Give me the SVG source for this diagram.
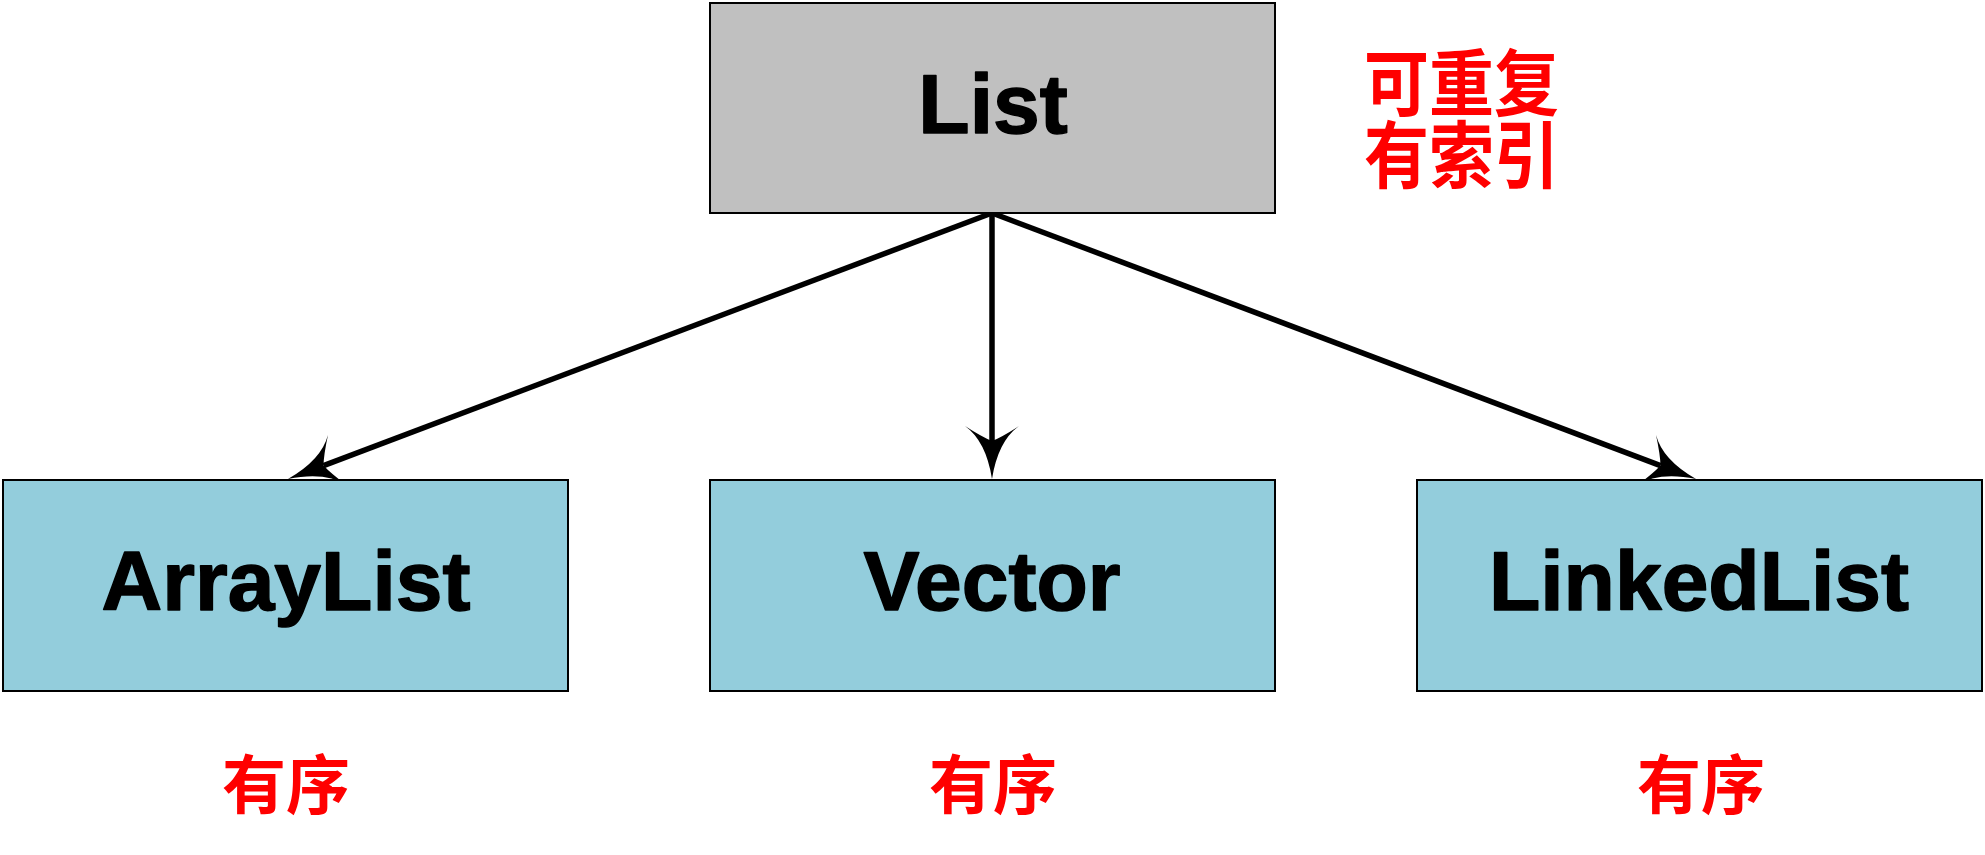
<svg xmlns="http://www.w3.org/2000/svg" width="1985" height="855" viewBox="0 0 1985 855">
<style>
.box{stroke:#000;stroke-width:2}
.gray{fill:#C0C0C0}
.blue{fill:#93CDDC}
.name{font-family:"Liberation Sans",Arial,sans-serif;font-weight:bold;font-size:84px;fill:#000;stroke:#000;stroke-width:1.5;stroke-linejoin:round;text-anchor:middle}
.note{font-family:"Noto Sans CJK SC","Noto Sans",sans-serif;font-weight:bold;font-size:64px;fill:#FF0000}
.mid{text-anchor:middle}
.edge{stroke:#000;stroke-width:5.5;fill:none;marker-end:url(#head)}
</style>
<defs>
<marker id="head" viewBox="-56 -30 60 60" markerWidth="60" markerHeight="60" refX="-38" refY="0" orient="auto" markerUnits="userSpaceOnUse">
<path d="M0,0 Q-38,-6 -53,-27 Q-42,-10 -38,0 Q-42,10 -53,27 Q-38,6 0,0 Z" fill="#000"/>
</marker>
</defs>
<rect width="1985" height="855" fill="#fff"/>
<g id="connectors">
<line class="edge" x1="992" y1="213" x2="323.5" y2="465.6"/>
<line class="edge" x1="992" y1="213" x2="992" y2="441"/>
<line class="edge" x1="992" y1="213" x2="1660.5" y2="465.6"/>
</g>
<g id="list">
<rect class="box gray" x="710" y="3" width="565" height="210"/>
<text class="name" x="993" y="133">List</text>
</g>
<g id="list-note">
<text class="note" style="font-size:65px" transform="scale(1,1.12)"><tspan x="1364" y="98.5">可重复</tspan><tspan x="1364" y="162.5">有索引</tspan></text>
</g>
<g id="arraylist">
<rect class="box blue" x="3" y="480" width="565" height="211"/>
<text class="name" x="286" y="610">ArrayList</text>
<text class="note mid" x="286" y="808">有序</text>
</g>
<g id="vector">
<rect class="box blue" x="710" y="480" width="565" height="211"/>
<text class="name" x="992" y="610">Vector</text>
<text class="note mid" x="993" y="808">有序</text>
</g>
<g id="linkedlist">
<rect class="box blue" x="1417" y="480" width="565" height="211"/>
<text class="name" x="1699" y="610">LinkedList</text>
<text class="note mid" x="1701" y="808">有序</text>
</g>
</svg>
